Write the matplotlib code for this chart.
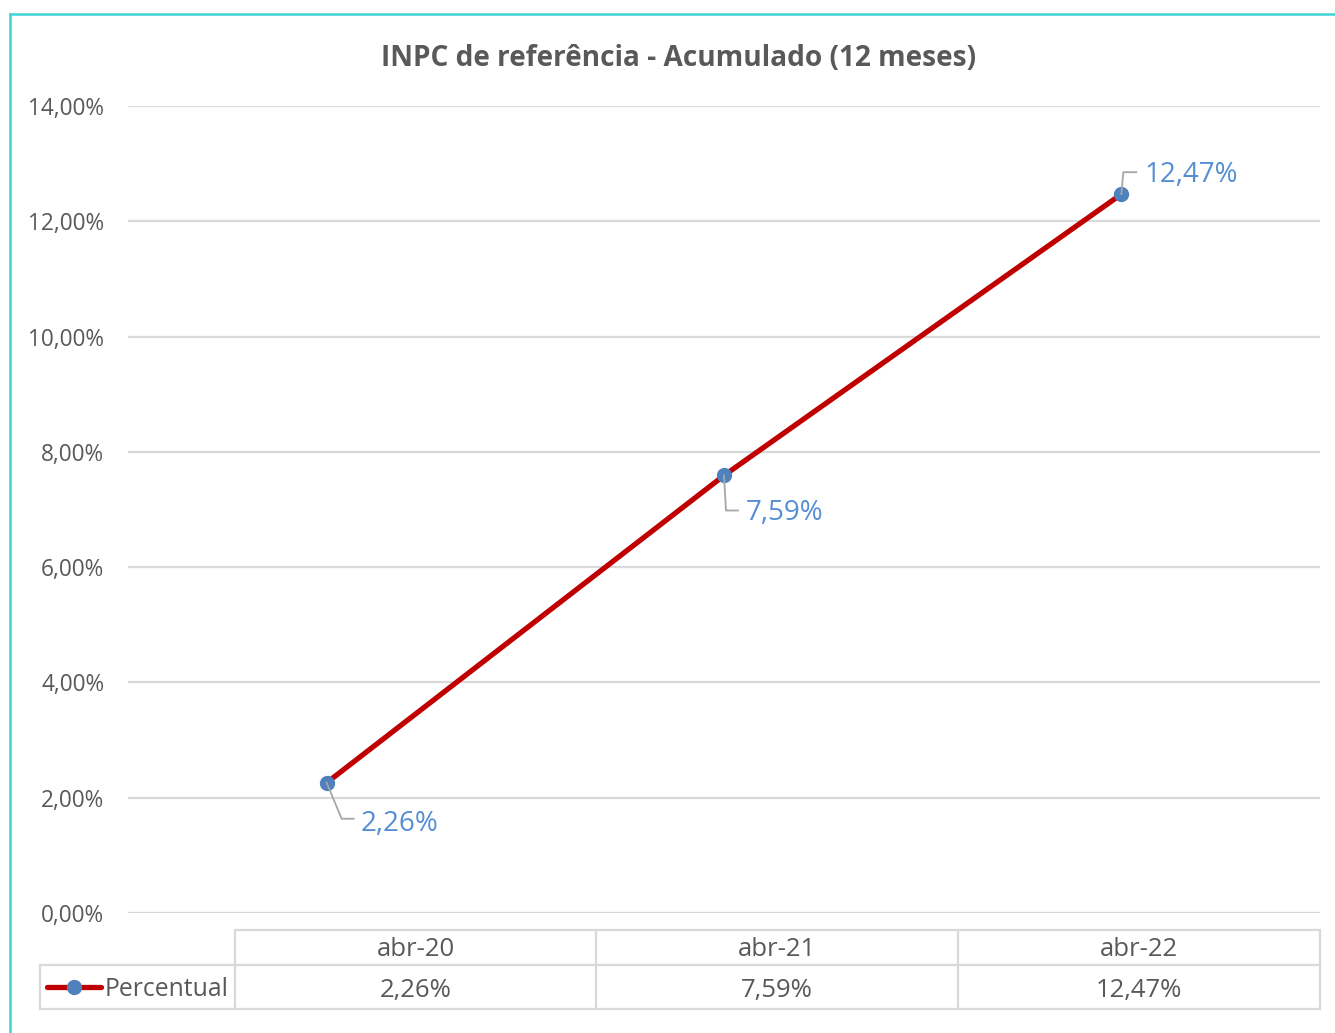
import matplotlib
matplotlib.use("Agg")
import matplotlib.pyplot as plt
from matplotlib.lines import Line2D
from matplotlib.ticker import FuncFormatter

# Data
categories = ["abr-20", "abr-21", "abr-22"]
values = [2.26, 7.59, 12.47]          # percent
series_name = "Percentual"
title = "INPC de referência - Acumulado (12 meses)"
y_ticks = [0, 2, 4, 6, 8, 10, 12, 14]

W, H = 1335, 1033
DPI = 100
FONT = "Open Sans"
TXT = "#595959"
GRID = "#d9d9d9"
LINE_RED = "#c00000"
MARK_BLUE = "#4f81bd"
LABEL_BLUE = "#558ed5"
FRAME = "#3fd3d3"

def pct(v, decimals=2):
    return f"{v:.{decimals}f}".replace(".", ",") + "%"

fig = plt.figure(figsize=(W / DPI, H / DPI), dpi=DPI)
fig.patch.set_facecolor("white")

def fx(px):
    return px / W

def fy(py):
    return 1 - py / H

# plot area (pixel bounds)
L, R, T, B = 128, 1320, 106, 913
ax = fig.add_axes([fx(L), fy(B), fx(R) - fx(L), fy(T) - fy(B)])
n = len(categories)
ax.set_xlim(-0.5, n - 0.5)
ax.set_ylim(0, 14)
for s in ax.spines.values():
    s.set_visible(False)
ax.set_yticks(y_ticks)
ax.yaxis.set_major_formatter(FuncFormatter(lambda v, p: pct(v)))
ax.tick_params(axis="y", length=0, pad=17, labelsize=16.3, labelcolor=TXT)
for lab in ax.get_yticklabels():
    lab.set_fontfamily(FONT)
ax.set_xticks([])
ax.grid(axis="y", color=GRID, linewidth=1.6)
ax.set_axisbelow(True)

xs = list(range(n))
ax.plot(xs, values, color=LINE_RED, linewidth=3.8, zorder=3,
        marker="o", markersize=10, markerfacecolor=MARK_BLUE,
        markeredgecolor=MARK_BLUE, solid_capstyle="butt")

# data labels with leader lines (pixel offsets from each point)
leaders = [
    [(0, 0), (15, -36), (27, -36)],
    [(0, 0), (2, -35), (14, -35)],
    [(0, 0), (2, 22), (15, 22)],
]
label_offsets = [(34, -41), (22, -38), (23, 19)]
fig.canvas.draw()
for x, v, path, off in zip(xs, values, leaders, label_offsets):
    px, py = ax.transData.transform((x, v))
    vx = [px + d[0] for d in path]
    vy = [py + d[1] for d in path]
    fig.add_artist(Line2D(vx, vy, transform=None, color="#a6a6a6",
                          linewidth=1.3, zorder=2))
    ax.annotate(pct(v), xy=(x, v), xytext=off, textcoords="offset pixels",
                ha="left", va="center", fontsize=20, color=LABEL_BLUE,
                fontfamily=FONT, zorder=5)

# title
fig.text(fx(679), fy(58), title, ha="center", va="center", fontsize=20.2,
         fontweight="bold", color=TXT, fontfamily=FONT)

# data table under the plot
col_edges = [235, 596, 958, 1320]
row_top, row_mid, row_bot = 930, 965, 1009
leg_left = 40

def hline(x0, x1, y):
    fig.add_artist(Line2D([fx(x0), fx(x1)], [fy(y), fy(y)], color=GRID,
                          linewidth=1.6))

def vline(x, y0, y1):
    fig.add_artist(Line2D([fx(x), fx(x)], [fy(y0), fy(y1)], color=GRID,
                          linewidth=1.6))

hline(col_edges[0], col_edges[-1], row_top)
hline(leg_left, col_edges[-1], row_mid)
hline(leg_left, col_edges[-1], row_bot)
for cx in col_edges:
    vline(cx, row_top, row_bot)
vline(leg_left, row_mid, row_bot)

for i, (c, v) in enumerate(zip(categories, values)):
    cx = (col_edges[i] + col_edges[i + 1]) / 2
    fig.text(fx(cx), fy(950), c, ha="center",
             va="center", fontsize=18.5, color=TXT, fontfamily=FONT)
    fig.text(fx(cx), fy(990), pct(v), ha="center",
             va="center", fontsize=18.5, color=TXT, fontfamily=FONT)

# legend key inside the table
ky = 987
fig.add_artist(Line2D([fx(47), fx(101)], [fy(ky), fy(ky)], color=LINE_RED,
                      linewidth=3.8, solid_capstyle="round"))
fig.add_artist(Line2D([fx(74)], [fy(ky)], marker="o", markersize=10,
                      markerfacecolor=MARK_BLUE, markeredgecolor=MARK_BLUE))
fig.text(fx(105), fy(990), series_name, ha="left", va="center", fontsize=17.8,
         color=TXT, fontfamily=FONT)

# outer frame (top and left edges)
fig.add_artist(Line2D([fx(10), fx(W)], [fy(14), fy(14)], color=FRAME,
                      linewidth=1.8))
fig.add_artist(Line2D([fx(10), fx(10)], [fy(14), fy(H)], color=FRAME,
                      linewidth=1.8))

fig.savefig("out.png", dpi=DPI, facecolor="white")
